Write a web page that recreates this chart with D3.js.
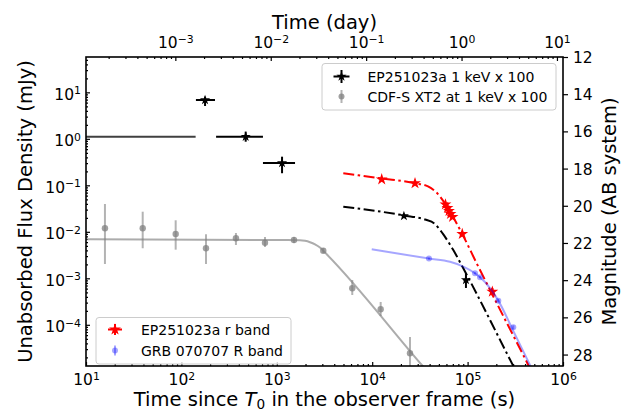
<!DOCTYPE html>
<html>
<head>
<meta charset="utf-8">
<script src="https://cdn.jsdelivr.net/npm/d3@7/dist/d3.min.js"></script>
<style>
body{margin:0;background:#fff;}
svg text{font-family:"DejaVu Sans",sans-serif;fill:#000;}
</style>
</head>
<body>
<svg id="chart" width="621" height="414"></svg>
<script>
// ---------------- data ----------------
// EP251023a, 1 keV flux density x 100 (mJy)
const xrayTime   = [177, 472, 1135, 21500, 96100];
const xrayTimeLo = [142, 231, 716, 21500, 90500];
const xrayTimeHi = [225, 716, 1553, 21500, 102000];
const xrayFlux   = [6.84, 1.11, 0.302, 0.0219, 0.00092];
const xrayFluxLo = [5.08, 0.867, 0.182, 0.0219, 0.00062];
const xrayFluxHi = [8.05, 1.43, 0.413, 0.0219, 0.0013];
// early wide-bin segment
const xraySegTime = [5, 141];
const xraySegFlux = [1.11, 1.11];
// EP251023a X-ray model (dash-dot)
const xrayModelTime = [4977, 21530, 35700, 45500, 55200, 70800, 90100, 301300, 574000];
const xrayModelFlux = [0.0348, 0.0225, 0.0184, 0.01475, 0.0090, 0.00406, 0.00164, 1.30e-5, 1.0e-6];

// EP251023a r band (AB mag)
const rTime   = [12580, 28100, 58600, 61500, 63800, 66200, 69500, 87900, 181600];
const rMag    = [18.58, 18.79, 19.93, 20.12, 20.28, 20.44, 20.60, 21.52, 24.62];
const rMagErr = [0.10, 0.06, 0.10, 0.10, 0.10, 0.10, 0.10, 0.12, 0.20];
const rModelTime = [4977, 12580, 28100, 38450, 48950, 59400, 87900, 124400, 432500, 647000];
const rModelMag  = [18.25, 18.53, 18.79, 18.96, 19.37, 19.96, 21.52, 23.09, 28.56, 30.33];

// GRB 070707 R band (AB mag)
const grbTime   = [39360, 119600, 134900, 209900, 301300];
const grbMag    = [22.84, 23.63, 23.84, 25.10, 26.53];
const grbMagErr = [0.05, 0.05, 0.06, 0.08, 0.10];
const grbModelTime = [9890, 39360, 65400, 90200, 119600, 152000, 209900, 301300, 450600, 647000];
const grbModelMag  = [22.34, 22.84, 23.01, 23.27, 23.63, 24.10, 25.10, 26.73, 28.56, 30.20];

// CDF-S XT2 at 1 keV x 100 (mJy)
const xt2Time   = [15.8, 39.3, 87.1, 181, 373, 752, 1514, 3070, 6180, 12270, 24900];
const xt2Flux   = [0.0119, 0.0119, 0.0090, 0.00443, 0.00726, 0.00584, 0.00668, 0.00393, 6.1e-4, 2.16e-4, 2.44e-5];
const xt2FluxLo = [0.00203, 0.00443, 0.00413, 0.00203, 0.00521, 0.00472, 0.00575, 0.00351, 4.38e-4, 1.55e-4, 8e-6];
const xt2FluxHi = [0.0397, 0.0271, 0.0177, 0.00886, 0.00944, 0.00774, 0.00774, 0.00449, 9.2e-4, 3.1e-4, 5.47e-5];
const xt2ModelTime = [10, 1000, 1750, 1977, 2230, 2515, 2835, 3200, 33800, 65500];
const xt2ModelFlux = [0.0069, 0.00665, 0.0066, 0.00641, 0.00598, 0.00537, 0.00458, 0.00358, 1.3e-5, 2.74e-6];

// axes tick values
const xMajor = [1e1, 1e2, 1e3, 1e4, 1e5, 1e6];
const xMajorExp = ["1", "2", "3", "4", "5", "6"];
const dayMajor = [1e-3, 1e-2, 1e-1, 1, 10];
const dayMajorExp = ["−3", "−2", "−1", "0", "1"];
const yMajor = [1e-4, 1e-3, 1e-2, 1e-1, 1, 10];
const yMajorExp = ["−4", "−3", "−2", "−1", "0", "1"];
const magTicks = [12, 14, 16, 18, 20, 22, 24, 26, 28];

const legendTop = ["EP251023a 1 keV x 100", "CDF-S XT2 at 1 keV x 100"];
const legendBottom = ["EP251023a r band", "GRB 070707 R band"];

// ---------------- scales ----------------
const P = {l: 86, r: 563, t: 57, b: 366};
const magZP = 2.5 * Math.log10(3.631e6); // AB zero point for mJy
const magOf = f => magZP - 2.5 * Math.log10(f);
const fluxOf = m => Math.pow(10, (magZP - m) / 2.5);
const FMAX = fluxOf(12), FMIN = 1.3e-5;

const x = d3.scaleLog().domain([10, 1e6]).range([P.l, P.r]);
const xDay = d3.scaleLog().domain([10 / 86400, 1e6 / 86400]).range([P.l, P.r]);
const y = d3.scaleLog().domain([FMIN, FMAX]).range([P.b, P.t]);
const yMag = d3.scaleLinear().domain([magOf(FMIN), 12]).range([P.b, P.t]);

const svg = d3.select("#chart");
svg.append("defs").append("clipPath").attr("id", "clip")
  .append("rect").attr("x", P.l).attr("y", P.t).attr("width", P.r - P.l).attr("height", P.b - P.t);

function minors(lo, hi) {
  const out = [];
  for (let e = Math.floor(Math.log10(lo)) - 1; e <= Math.ceil(Math.log10(hi)); e++) {
    for (let k = 2; k <= 9; k++) {
      const v = k * Math.pow(10, e);
      if (v > lo && v < hi) out.push(v);
    }
  }
  return out;
}
function supLabel(sel, exps) {
  sel.each(function(d, i) {
    const t = d3.select(this);
    t.text(null);
    t.append("tspan").text("10");
    t.append("tspan").attr("dy", "-0.5em").attr("font-size", "0.7em").text(exps[i]);
  });
}

const TICKFS = 15.5, LABFS = 19.5;

// ---------------- axes ----------------
// bottom
svg.append("g").attr("transform", `translate(0,${P.b})`)
  .call(d3.axisBottom(x).tickValues(minors(10, 1e6)).tickSizeInner(-2).tickSizeOuter(0).tickFormat(""));
const gB2 = svg.append("g").attr("transform", `translate(0,${P.b})`)
  .call(d3.axisBottom(x).tickValues(xMajor).tickSizeInner(-4).tickSizeOuter(0).tickPadding(19));
gB2.selectAll(".tick text").attr("dy", "0").attr("font-size", TICKFS).call(supLabel, xMajorExp);
// top
svg.append("g").attr("transform", `translate(0,${P.t})`)
  .call(d3.axisTop(xDay).tickValues(minors(10 / 86400, 1e6 / 86400)).tickSizeInner(-2).tickSizeOuter(0).tickFormat(""));
const gT2 = svg.append("g").attr("transform", `translate(0,${P.t})`)
  .call(d3.axisTop(xDay).tickValues(dayMajor).tickSizeInner(-4).tickSizeOuter(0).tickPadding(9));
gT2.selectAll(".tick text").attr("dy", "0").attr("font-size", TICKFS).call(supLabel, dayMajorExp);
// left
svg.append("g").attr("transform", `translate(${P.l},0)`)
  .call(d3.axisLeft(y).tickValues(minors(FMIN, FMAX)).tickSizeInner(-2).tickSizeOuter(0).tickFormat(""));
const gL2 = svg.append("g").attr("transform", `translate(${P.l},0)`)
  .call(d3.axisLeft(y).tickValues(yMajor).tickSizeInner(-4).tickSizeOuter(0).tickPadding(5));
gL2.selectAll(".tick text").attr("dy", "0.45em").attr("font-size", TICKFS).call(supLabel, yMajorExp);
// right (magnitude)
const gR = svg.append("g").attr("transform", `translate(${P.r},0)`)
  .call(d3.axisRight(yMag).tickValues(magTicks).tickSizeInner(5).tickSizeOuter(0).tickPadding(5).tickFormat(d3.format("d")));
gR.selectAll(".tick text").attr("font-size", TICKFS).attr("dy", "0.36em");

svg.selectAll(".domain").remove();
svg.selectAll(".tick line").attr("stroke", "#000").attr("stroke-width", 1.2);
svg.selectAll(".tick text").attr("font-family", "DejaVu Sans").attr("fill", "#000");

// titles
svg.append("text").attr("x", (P.l + P.r) / 2).attr("y", 29).attr("text-anchor", "middle")
  .attr("font-size", LABFS).text("Time (day)");
const bt = svg.append("text").attr("x", (P.l + P.r) / 2).attr("y", 406).attr("text-anchor", "middle")
  .attr("font-size", LABFS);
bt.append("tspan").text("Time since ");
bt.append("tspan").attr("font-style", "italic").text("T");
bt.append("tspan").attr("font-size", "0.7em").attr("dy", "0.25em").text("0");
bt.append("tspan").attr("dy", "-0.175em").text(" in the observer frame (s)");
svg.append("text").attr("transform", `translate(32,${(P.t + P.b) / 2}) rotate(-90)`)
  .attr("text-anchor", "middle").attr("font-size", LABFS).text("Unabsorbed Flux Density (mJy)");
svg.append("text").attr("transform", `translate(616,${(P.t + P.b) / 2}) rotate(-90)`)
  .attr("text-anchor", "middle").attr("font-size", LABFS).text("Magnitude (AB system)");

// ---------------- data layers ----------------
const plot = svg.append("g").attr("clip-path", "url(#clip)");
const line = d3.line().curve(d3.curveMonotoneX);
const star = s => d3.symbol(d3.symbolStar, s)();
const dashDot = "11,3.5,2.5,3.5";

// CDF-S XT2
plot.append("path")
  .attr("d", line(xt2ModelTime.map((t, i) => [x(t), y(xt2ModelFlux[i])])))
  .attr("fill", "none").attr("stroke", "gray").attr("stroke-opacity", 0.65).attr("stroke-width", 2);
xt2Time.forEach((t, i) => {
  plot.append("line").attr("x1", x(t)).attr("x2", x(t)).attr("y1", y(xt2FluxLo[i])).attr("y2", y(xt2FluxHi[i]))
    .attr("stroke", "gray").attr("stroke-opacity", 0.6).attr("stroke-width", 2);
  plot.append("circle").attr("cx", x(t)).attr("cy", y(xt2Flux[i])).attr("r", 3.2)
    .attr("fill", "gray").attr("fill-opacity", 0.75);
});

// EP X-ray early segment
plot.append("line").attr("x1", x(xraySegTime[0])).attr("x2", x(xraySegTime[1]))
  .attr("y1", y(xraySegFlux[0])).attr("y2", y(xraySegFlux[1]))
  .attr("stroke", "#000").attr("stroke-opacity", 0.75).attr("stroke-width", 2);

// EP X-ray model
plot.append("path")
  .attr("d", line(xrayModelTime.map((t, i) => [x(t), y(xrayModelFlux[i])])))
  .attr("fill", "none").attr("stroke", "#000").attr("stroke-width", 2).attr("stroke-dasharray", dashDot);

// EP X-ray points
xrayTime.forEach((t, i) => {
  plot.append("line").attr("x1", x(xrayTimeLo[i])).attr("x2", x(xrayTimeHi[i])).attr("y1", y(xrayFlux[i])).attr("y2", y(xrayFlux[i]))
    .attr("stroke", "#000").attr("stroke-width", 2);
  plot.append("line").attr("x1", x(t)).attr("x2", x(t)).attr("y1", y(xrayFluxLo[i])).attr("y2", y(xrayFluxHi[i]))
    .attr("stroke", "#000").attr("stroke-width", 2);
  plot.append("path").attr("d", star(32)).attr("transform", `translate(${x(t)},${y(xrayFlux[i])})`).attr("fill", "#000");
});

// EP r-band model & points
plot.append("path")
  .attr("d", line(rModelTime.map((t, i) => [x(t), y(fluxOf(rModelMag[i]))])))
  .attr("fill", "none").attr("stroke", "red").attr("stroke-width", 2).attr("stroke-dasharray", dashDot);
rTime.forEach((t, i) => {
  plot.append("line").attr("x1", x(t)).attr("x2", x(t))
    .attr("y1", y(fluxOf(rMag[i] + rMagErr[i]))).attr("y2", y(fluxOf(rMag[i] - rMagErr[i])))
    .attr("stroke", "red").attr("stroke-width", 2);
  plot.append("path").attr("d", star(44)).attr("transform", `translate(${x(t)},${y(fluxOf(rMag[i]))})`).attr("fill", "red");
});

// GRB 070707 model & points
plot.append("path")
  .attr("d", line(grbModelTime.map((t, i) => [x(t), y(fluxOf(grbModelMag[i]))])))
  .attr("fill", "none").attr("stroke", "blue").attr("stroke-opacity", 0.35).attr("stroke-width", 2);
grbTime.forEach((t, i) => {
  plot.append("line").attr("x1", x(t)).attr("x2", x(t))
    .attr("y1", y(fluxOf(grbMag[i] + grbMagErr[i]))).attr("y2", y(fluxOf(grbMag[i] - grbMagErr[i])))
    .attr("stroke", "blue").attr("stroke-opacity", 0.35).attr("stroke-width", 2);
  plot.append("circle").attr("cx", x(t)).attr("cy", y(fluxOf(grbMag[i]))).attr("r", 3)
    .attr("fill", "blue").attr("fill-opacity", 0.35);
});

// spines
svg.append("rect").attr("x", P.l).attr("y", P.t).attr("width", P.r - P.l).attr("height", P.b - P.t)
  .attr("fill", "none").attr("stroke", "#000").attr("stroke-width", 1.6);

// ---------------- legends ----------------
function legendBox(x0, y0, w, h) {
  svg.append("rect").attr("x", x0).attr("y", y0).attr("width", w).attr("height", h).attr("rx", 3)
    .attr("fill", "#fff").attr("fill-opacity", 0.8).attr("stroke", "#cccccc").attr("stroke-width", 1);
}
// top-right legend
legendBox(322, 63.5, 234, 46.5);
{
  const mx = 341.5, y1 = 76.5, y2 = 96.5;
  svg.append("line").attr("x1", mx - 8).attr("x2", mx + 8).attr("y1", y1).attr("y2", y1).attr("stroke", "#000").attr("stroke-width", 2);
  svg.append("line").attr("x1", mx).attr("x2", mx).attr("y1", y1 - 6.5).attr("y2", y1 + 6.5).attr("stroke", "#000").attr("stroke-width", 2);
  svg.append("path").attr("d", star(32)).attr("transform", `translate(${mx},${y1})`).attr("fill", "#000");
  svg.append("line").attr("x1", mx).attr("x2", mx).attr("y1", y2 - 6.5).attr("y2", y2 + 6.5).attr("stroke", "gray").attr("stroke-opacity", 0.6).attr("stroke-width", 2);
  svg.append("circle").attr("cx", mx).attr("cy", y2).attr("r", 3).attr("fill", "gray").attr("fill-opacity", 0.75);
  svg.append("text").attr("x", 367.5).attr("y", y1 + 5).attr("font-size", 14).text(legendTop[0]);
  svg.append("text").attr("x", 367.5).attr("y", y2 + 5).attr("font-size", 14).text(legendTop[1]);
}
// bottom-left legend
legendBox(96, 317.5, 195, 46.5);
{
  const mx = 115, y1 = 329.5, y2 = 350.5;
  svg.append("line").attr("x1", mx - 7).attr("x2", mx + 7).attr("y1", y1).attr("y2", y1).attr("stroke", "red").attr("stroke-width", 2);
  svg.append("line").attr("x1", mx).attr("x2", mx).attr("y1", y1 - 5.5).attr("y2", y1 + 5.5).attr("stroke", "red").attr("stroke-width", 2);
  svg.append("path").attr("d", star(44)).attr("transform", `translate(${mx},${y1})`).attr("fill", "red");
  svg.append("line").attr("x1", mx).attr("x2", mx).attr("y1", y2 - 5).attr("y2", y2 + 5).attr("stroke", "blue").attr("stroke-opacity", 0.35).attr("stroke-width", 2);
  svg.append("circle").attr("cx", mx).attr("cy", y2).attr("r", 3).attr("fill", "blue").attr("fill-opacity", 0.35);
  svg.append("text").attr("x", 141).attr("y", y1 + 5).attr("font-size", 14).text(legendBottom[0]);
  svg.append("text").attr("x", 141).attr("y", y2 + 5).attr("font-size", 14).text(legendBottom[1]);
}
</script>
</body>
</html>
